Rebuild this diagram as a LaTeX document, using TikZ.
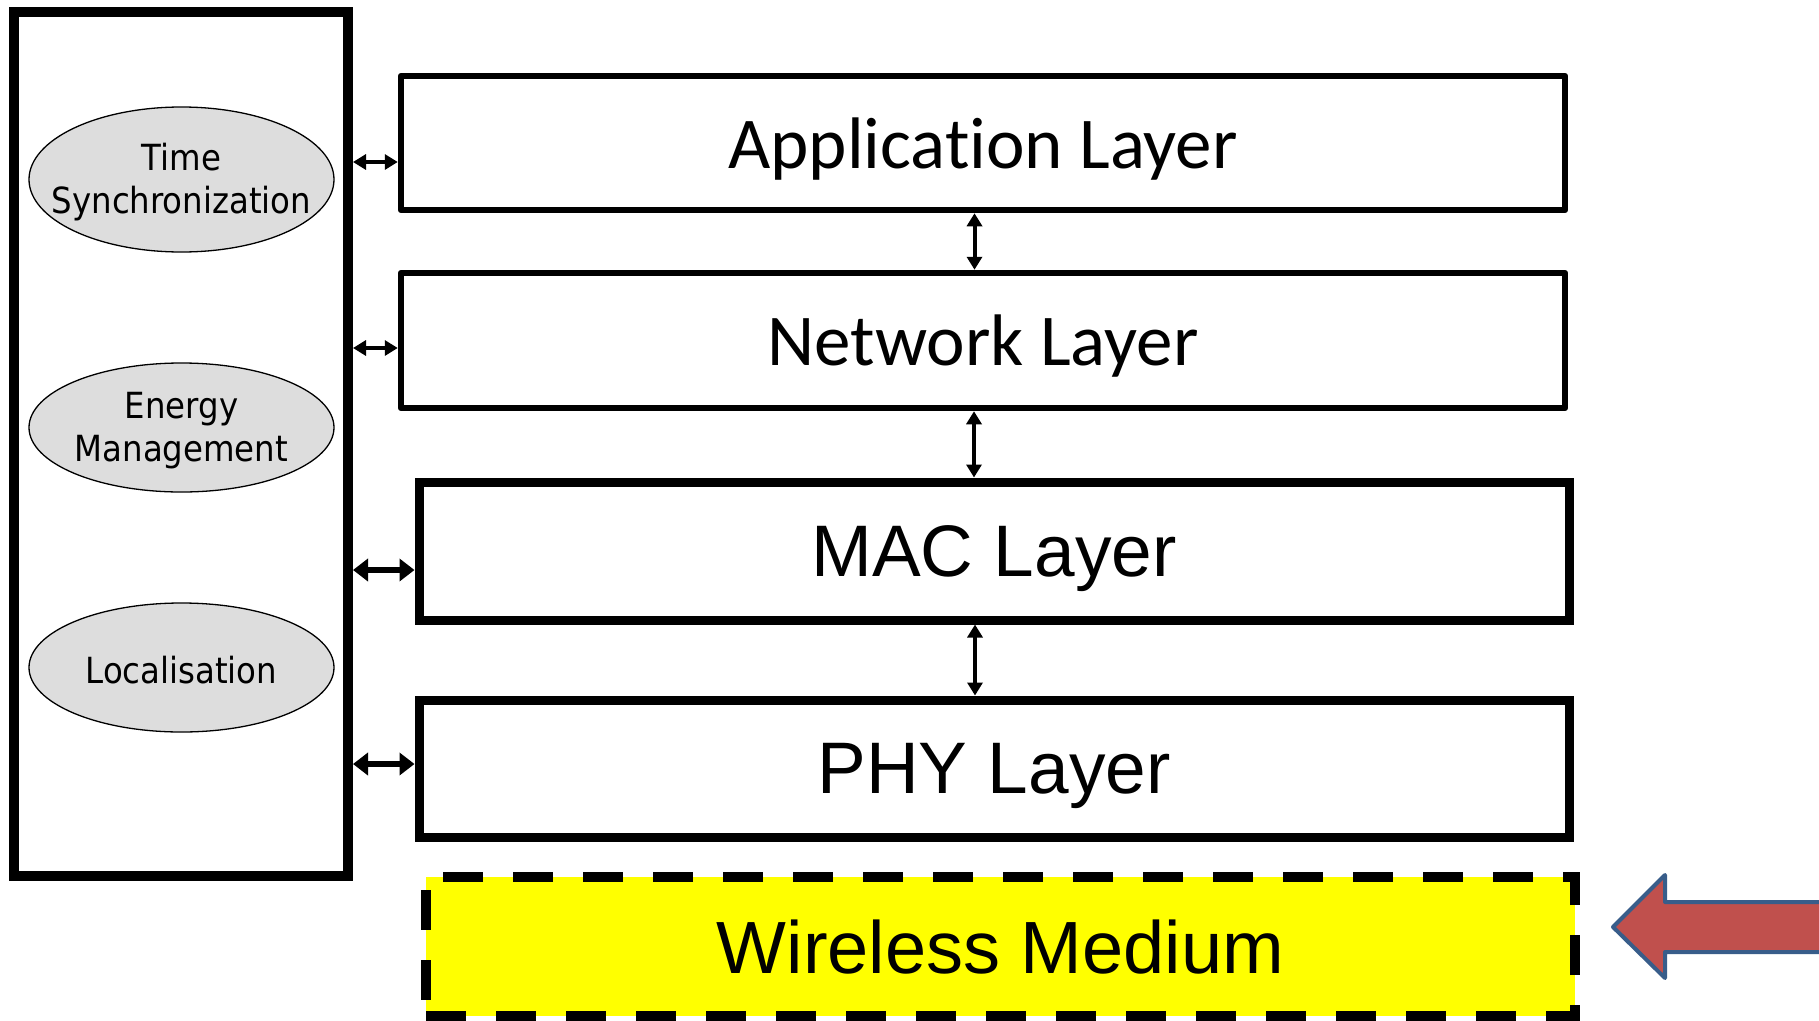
\documentclass[tikz,border=0pt]{standalone}
\usepackage{fontspec}
\usepackage{xcolor}
\usepackage{tikz}
\usetikzlibrary{arrows.meta,shapes.geometric}
\newfontfamily\calibrifont[Ligatures=NoCommon]{Carlito}
\newfontfamily\tahomafont{DejaVu Sans Condensed}
\newfontfamily\arialfont{Liberation Sans}
\definecolor{ellgray}{RGB}{221,221,221}
\definecolor{arrowred}{RGB}{192,80,77}
\definecolor{arrowblue}{RGB}{56,93,138}
\definecolor{mediumyellow}{RGB}{255,255,0}

\begin{document}
\begin{tikzpicture}[x=1pt,y=-1pt,>={Triangle[length=13pt,width=15pt]},
  layer/.style={draw,line width=6.5pt,line join=round,inner sep=0pt,text depth=0pt,minimum width=1164pt,font=\calibrifont\fontsize{73}{88}\selectfont},
  boldlayer/.style={draw,line width=9pt,inner sep=0pt,text depth=0pt,minimum width=1150pt,font=\arialfont\fontsize{73}{88}\selectfont},
  service/.style={ellipse,draw,line width=1.3pt,fill=ellgray,inner sep=0pt,minimum width=305pt},
  servicetext/.style={align=center,inner sep=0pt,yshift=-3pt,font=\tahomafont\fontsize{36}{43}\selectfont},
  sidearrow/.style={<->,line width=3.5pt},
  stackarrow/.style={<->,line width=4pt},
  boldarrow/.style={<->,line width=6pt,>={Triangle[length=15pt,width=22pt]}}]
\useasboundingbox (0,0) rectangle (1819,1020);

% cross-layer planes
\node[draw,line width=10pt,minimum width=334pt,minimum height=864pt] (side) at (181,444) {};
\node[service,minimum height=145pt,label={[servicetext]center:Time\\Synchronization}] (sync) at (181.5,179.5) {};
\node[service,minimum height=129pt,label={[servicetext]center:Energy\\Management}] (energy) at (181.5,427.5) {};
\node[service,minimum height=129pt,label={[servicetext]center:Localisation}] (loc) at (181.5,667.5) {};

% protocol stack
\node[layer,minimum height=134pt] (app) at (983,143) {Application Layer};
\node[layer,minimum height=135pt] (net) at (983,340.5) {Network Layer};
\node[boldlayer,minimum height=138pt] (mac) at (994,551) {MAC Layer};
\node[boldlayer,minimum height=137pt] (phy) at (994,768.5) {PHY Layer};
\node[draw,fill=mediumyellow,line width=9.5pt,dash pattern=on 40pt off 30pt,inner sep=0pt,text depth=0pt,
  minimum width=1149pt,minimum height=139pt,font=\arialfont\fontsize{74}{88}\selectfont] (medium) at (1000.5,946.5) {Wireless Medium};

\draw[stackarrow] ([xshift=-8.5pt]app.south) -- ([xshift=-8.5pt]app.south |- net.north);
\draw[stackarrow] ([xshift=-9pt]net.south) -- ([xshift=-9pt]net.south |- mac.north);
\draw[stackarrow] ([xshift=-19pt]mac.south) -- ([xshift=-19pt]mac.south |- phy.north);

\draw[sidearrow] ([yshift=-19pt]app.west -| side.east) -- ([yshift=-19pt]app.west);
\draw[sidearrow] ([yshift=-7.5pt]net.west -| side.east) -- ([yshift=-7.5pt]net.west);
\draw[boldarrow] ([yshift=-19pt]mac.west -| side.east) -- ([yshift=-19pt]mac.west);
\draw[boldarrow] ([yshift=4.5pt]phy.west -| side.east) -- ([yshift=4.5pt]phy.west);

\draw[line width=4pt,draw=arrowblue,fill=arrowred,line join=round]
  (1613,927) -- (1665,875) -- (1665,902) -- (1830,902) -- (1830,952) -- (1665,952) -- (1665,978) -- cycle;
\end{tikzpicture}
\end{document}
